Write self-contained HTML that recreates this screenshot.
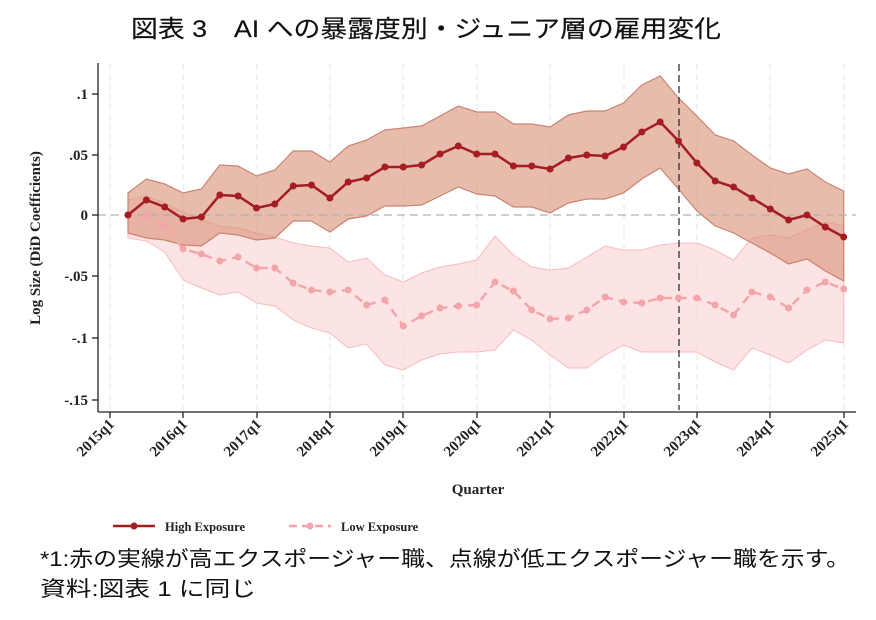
<!DOCTYPE html>
<html><head><meta charset="utf-8"><style>
html,body{margin:0;padding:0;background:#fff;width:876px;height:620px;overflow:hidden}
.t{font-family:"Liberation Sans","Noto Sans CJK JP",sans-serif}
.s{font-family:"Liberation Serif","DejaVu Serif",serif;font-weight:bold}
</style></head><body>
<svg width="876" height="620" viewBox="0 0 876 620" xmlns="http://www.w3.org/2000/svg">
<defs>
<marker id="mh" viewBox="0 0 10 10" refX="5" refY="5" markerWidth="7" markerHeight="7" markerUnits="userSpaceOnUse"><circle cx="5" cy="5" r="5" fill="#a31d22"/></marker>
<marker id="ml" viewBox="0 0 10 10" refX="5" refY="5" markerWidth="7" markerHeight="7" markerUnits="userSpaceOnUse"><circle cx="5" cy="5" r="5" fill="#f2a6aa"/></marker>
</defs>
<text x="131" y="37" class="t" font-size="24" fill="#111" stroke="#111" stroke-width="0.15" textLength="590" lengthAdjust="spacingAndGlyphs">図表 3　AI への暴露度別・ジュニア層の雇用変化</text>
<g stroke="#e6e6e6" stroke-width="1" stroke-dasharray="6,4">
<line x1="110" y1="64" x2="110" y2="410"/><line x1="183" y1="64" x2="183" y2="410"/><line x1="257" y1="64" x2="257" y2="410"/><line x1="330" y1="64" x2="330" y2="410"/><line x1="403" y1="64" x2="403" y2="410"/><line x1="477" y1="64" x2="477" y2="410"/><line x1="550" y1="64" x2="550" y2="410"/><line x1="624" y1="64" x2="624" y2="410"/><line x1="697" y1="64" x2="697" y2="410"/><line x1="770" y1="64" x2="770" y2="410"/><line x1="844" y1="64" x2="844" y2="410"/>
</g>
<polygon fill="#fbd5d7" fill-opacity="0.65" stroke="#f5bcc0" stroke-width="1" points="128,200 146.4,196 164.7,203 183.1,212 201.4,220 219.8,226 238.1,228 256.5,233 274.8,237 293.2,243 311.5,246 329.9,248 348.2,262 366.6,258 384.9,275 403.3,282 421.6,273 440,267 458.3,264 476.7,260 495,236 513.4,255 531.7,267 550.1,270 568.4,268 586.8,257 605.1,246 623.5,250 641.8,250 660.2,245 678.5,243 696.9,243 715.2,250 733.6,260 751.9,238 770.3,235 788.6,238 807,230 825.3,222 843.7,226 843.7,343 825.3,340 807,350 788.6,363 770.3,355 751.9,348 733.6,370 715.2,362 696.9,352 678.5,352 660.2,352 641.8,352 623.5,345 605.1,355 586.8,368 568.4,368 550.1,355 531.7,340 513.4,330 495,350 476.7,352 458.3,352 440,354 421.6,360 403.3,370 384.9,365 366.6,344 348.2,348 329.9,333 311.5,328 293.2,320 274.8,306 256.5,303 238.1,292 219.8,295 201.4,288 183.1,280 164.7,252 146.4,241 128,238"/>
<polygon fill="#d98f76" fill-opacity="0.6" stroke="#c98470" stroke-width="1.2" points="128,193 146.4,179 164.7,184 183.1,193 201.4,189 219.8,165 238.1,166 256.5,176 274.8,170 293.2,151 311.5,151 329.9,162 348.2,146 366.6,140 384.9,130 403.3,128 421.6,126 440,116 458.3,106 476.7,112 495,112 513.4,124 531.7,124 550.1,127 568.4,115 586.8,111 605.1,111 623.5,103 641.8,85 660.2,76 678.5,98 696.9,116 715.2,135 733.6,141 751.9,155 770.3,168 788.6,174 807,169 825.3,182 843.7,191 843.7,281 825.3,271 807,259 788.6,264 770.3,253 751.9,243 733.6,233 715.2,226 696.9,211 678.5,189 660.2,168 641.8,179 623.5,193 605.1,199 586.8,199 568.4,203 550.1,213 531.7,207 513.4,207 495,196 476.7,194 458.3,187 440,196 421.6,205 403.3,206 384.9,206 366.6,216 348.2,219 329.9,232 311.5,221 293.2,221 274.8,238 256.5,240 238.1,235 219.8,233 201.4,246 183.1,245 164.7,240 146.4,238 128,233"/>
<line x1="98" y1="215" x2="856" y2="215" stroke="#b0b0b0" stroke-width="1.2" stroke-dasharray="8,5"/>
<line x1="679" y1="64" x2="679" y2="410" stroke="#222" stroke-width="1.2" stroke-dasharray="7,4"/>
<polyline fill="none" stroke="#f2a6aa" stroke-width="2.5" stroke-dasharray="9,6" marker-start="url(#ml)" marker-mid="url(#ml)" marker-end="url(#ml)" points="128,215 146.4,216 164.7,226 183.1,249 201.4,254 219.8,261 238.1,257 256.5,268 274.8,268 293.2,283 311.5,290 329.9,292 348.2,290 366.6,305 384.9,300 403.3,326 421.6,316 440,308 458.3,306 476.7,305 495,282 513.4,291 531.7,310 550.1,319 568.4,318 586.8,310 605.1,297 623.5,302 641.8,303 660.2,298 678.5,298 696.9,298 715.2,305 733.6,315 751.9,292 770.3,297 788.6,308 807,290 825.3,282 843.7,289"/>
<polyline fill="none" stroke="#a31d22" stroke-width="2.5" marker-start="url(#mh)" marker-mid="url(#mh)" marker-end="url(#mh)" points="128,215 146.4,200 164.7,207 183.1,219 201.4,217 219.8,195 238.1,196 256.5,208 274.8,204 293.2,186 311.5,185 329.9,198 348.2,182 366.6,178 384.9,167 403.3,167 421.6,165 440,154 458.3,146 476.7,154 495,154 513.4,166 531.7,166 550.1,169 568.4,158 586.8,155 605.1,156 623.5,147 641.8,132 660.2,122 678.5,141 696.9,163 715.2,181 733.6,187 751.9,198 770.3,209 788.6,220 807,215 825.3,227 843.7,237"/>
<line x1="98" y1="63" x2="98" y2="412" stroke="#222" stroke-width="1.3"/>
<line x1="98" y1="412" x2="856" y2="412" stroke="#222" stroke-width="1.3"/>
<g stroke="#222" stroke-width="1.3">
<line x1="92" y1="94" x2="98" y2="94"/><line x1="92" y1="155" x2="98" y2="155"/><line x1="92" y1="215" x2="98" y2="215"/><line x1="92" y1="276" x2="98" y2="276"/><line x1="92" y1="338" x2="98" y2="338"/><line x1="92" y1="400" x2="98" y2="400"/>
<line x1="110" y1="412" x2="110" y2="418"/><line x1="183" y1="412" x2="183" y2="418"/><line x1="257" y1="412" x2="257" y2="418"/><line x1="330" y1="412" x2="330" y2="418"/><line x1="403" y1="412" x2="403" y2="418"/><line x1="477" y1="412" x2="477" y2="418"/><line x1="550" y1="412" x2="550" y2="418"/><line x1="624" y1="412" x2="624" y2="418"/><line x1="697" y1="412" x2="697" y2="418"/><line x1="770" y1="412" x2="770" y2="418"/><line x1="844" y1="412" x2="844" y2="418"/>
</g>
<g class="s" font-size="15" fill="#222" text-anchor="end">
<text x="88" y="99">.1</text><text x="88" y="160">.05</text><text x="88" y="220">0</text><text x="88" y="281">-.05</text><text x="88" y="343">-.1</text><text x="88" y="405">-.15</text>
</g>
<g class="s" font-size="15" fill="#222" text-anchor="end">
<text transform="translate(115,425) rotate(-45)">2015q1</text>
<text transform="translate(188,425) rotate(-45)">2016q1</text>
<text transform="translate(262,425) rotate(-45)">2017q1</text>
<text transform="translate(335,425) rotate(-45)">2018q1</text>
<text transform="translate(408,425) rotate(-45)">2019q1</text>
<text transform="translate(482,425) rotate(-45)">2020q1</text>
<text transform="translate(555,425) rotate(-45)">2021q1</text>
<text transform="translate(629,425) rotate(-45)">2022q1</text>
<text transform="translate(702,425) rotate(-45)">2023q1</text>
<text transform="translate(775,425) rotate(-45)">2024q1</text>
<text transform="translate(849,425) rotate(-45)">2025q1</text>
</g>
<text x="478" y="494" class="s" font-size="15" fill="#222" text-anchor="middle">Quarter</text>
<text transform="translate(40,238) rotate(-90)" class="s" font-size="15" fill="#222" text-anchor="middle">Log Size (DiD Coefficients)</text>
<line x1="113" y1="526" x2="155" y2="526" stroke="#a31d22" stroke-width="2.5"/><circle cx="134" cy="526" r="3.5" fill="#a31d22"/>
<text x="165" y="531" class="s" font-size="12.5" fill="#222">High Exposure</text>
<line x1="289" y1="526" x2="331" y2="526" stroke="#f2a6aa" stroke-width="2.5" stroke-dasharray="8,5"/><circle cx="310" cy="526" r="3.5" fill="#f2a6aa"/>
<text x="341" y="531" class="s" font-size="12.5" fill="#222">Low Exposure</text>
<text x="40" y="566" class="t" font-size="21" fill="#111" textLength="810" lengthAdjust="spacingAndGlyphs">*1:赤の実線が高エクスポージャー職、点線が低エクスポージャー職を示す。</text>
<text x="40" y="596" class="t" font-size="21" fill="#111" textLength="216" lengthAdjust="spacingAndGlyphs">資料:図表 1 に同じ</text>
</svg>
</body></html>
